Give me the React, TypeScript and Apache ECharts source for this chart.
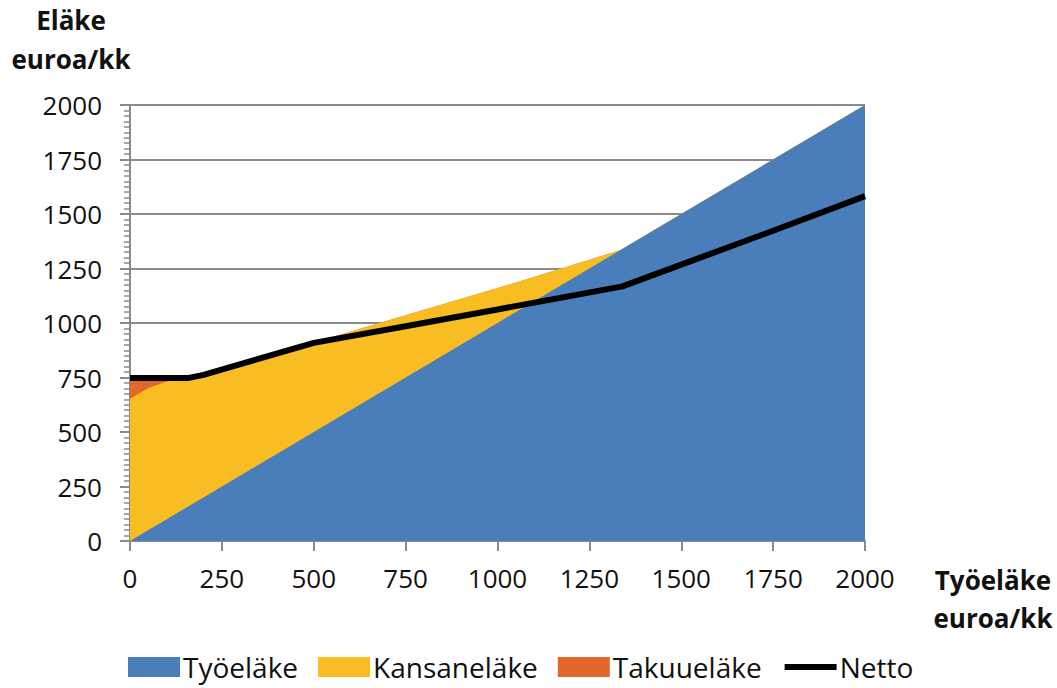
import React, { useEffect, useRef } from "react";
import * as echarts from "echarts";

const xValues = [0, 50, 100, 150, 200, 250, 500, 750, 1000, 1250, 1335, 1500, 1750, 2000];
const tyoelake = [0, 50, 100, 150, 200, 250, 500, 750, 1000, 1250, 1335, 1500, 1750, 2000];
const kansanelake = [652, 652, 632, 595, 560, 535, 410, 285, 160, 40, 0, 0, 0, 0];
const takuuelake = [93, 40, 12, 0, 0, 0, 0, 0, 0, 0, 0, 0, 0, 0];
const nettoX = [0, 160, 200, 500, 750, 1000, 1340, 1500, 1750, 2000];
const nettoY = [748, 748, 762, 909, 985, 1062, 1168, 1268, 1423, 1582];
const seriesNames = ["Työeläke", "Kansaneläke", "Takuueläke", "Netto"];
const colors = ["#4a7ebb", "#f7bd22", "#e2672a", "#000000"];
const yTitle = ["Eläke", "euroa/kk"];
const xTitle = ["Työeläke", "euroa/kk"];

const FONT = "Open Sans";

export default function App() {
  const ref = useRef<HTMLDivElement>(null);
  useEffect(() => {
    document.body.style.margin = "0";
    const chart = echarts.init(ref.current!, null, { renderer: "svg" });
    // stacked tops built from the component arrays
    const layers = [tyoelake, kansanelake, takuuelake];
    const tops = layers.map((_, li) =>
      xValues.map((x, i) => {
        let s = 0;
        for (let k = 0; k <= li; k++) s += layers[k][i];
        return [x, s];
      })
    );
    const areaSeries = (idx: number) => ({
      name: seriesNames[idx],
      type: "line",
      data: tops[idx],
      symbol: "none",
      lineStyle: { width: 0, color: colors[idx] },
      itemStyle: { color: colors[idx] },
      areaStyle: { color: colors[idx], opacity: 1, origin: "start" },
      z: 2,
    });
    const titleText = (text: string, x: number, y: number) => ({
      type: "text",
      x,
      y,
      style: {
        text,
        fontFamily: FONT,
        fontSize: 26,
        fontWeight: "bold",
        fill: "#111",
        align: "center",
        verticalAlign: "middle",
      },
    });
    chart.setOption({
      animation: false,
      textStyle: { fontFamily: FONT },
      grid: { left: 130, right: 192, top: 105, bottom: 147 },
      legend: {
        left: 128,
        top: 653,
        padding: 0,
        itemWidth: 52,
        itemHeight: 20,
        itemGap: 20,
        textStyle: { fontFamily: FONT, fontSize: 28, color: "#111", padding: [0, 0, 0, -2] },
        data: [
          { name: seriesNames[0], icon: "rect" },
          { name: seriesNames[1], icon: "rect" },
          { name: seriesNames[2], icon: "rect" },
          {
            name: seriesNames[3],
            itemStyle: { color: "rgba(0,0,0,0)", borderWidth: 0 },
            lineStyle: { width: 6, color: "#000" },
          },
        ],
      },
      xAxis: {
        type: "value",
        min: 0,
        max: 2000,
        interval: 250,
        axisLine: { show: true, lineStyle: { color: "#8a8a8a", width: 2 } },
        axisTick: { show: true, length: 10, lineStyle: { color: "#8a8a8a", width: 2 } },
        splitLine: { show: false },
        axisLabel: {
          fontFamily: FONT,
          fontSize: 26,
          color: "#111",
          margin: 24,
          formatter: (v: number) => String(v),
        },
      },
      yAxis: {
        type: "value",
        min: 0,
        max: 2000,
        interval: 250,
        axisLine: { show: true, lineStyle: { color: "#8a8a8a", width: 2 } },
        axisTick: { show: true, length: 10, lineStyle: { color: "#8a8a8a", width: 2 } },
        minorTick: { show: true, splitNumber: 10, length: 6, lineStyle: { color: "#8a8a8a", width: 1.5 } },
        splitLine: { show: true, lineStyle: { color: "#8c8c8c", width: 2 } },
        axisLabel: {
          fontFamily: FONT,
          fontSize: 26,
          color: "#111",
          margin: 28,
          formatter: (v: number) => String(v),
        },
      },
      graphic: [
        titleText(yTitle[0], 71, 20),
        titleText(yTitle[1], 71, 59),
        titleText(xTitle[0], 993, 580),
        titleText(xTitle[1], 993, 618),
      ],
      series: [
        areaSeries(2),
        areaSeries(1),
        areaSeries(0),
        {
          name: seriesNames[3],
          type: "line",
          data: nettoX.map((x, i) => [x, nettoY[i]]),
          symbol: "none",
          lineStyle: { color: colors[3], width: 6 },
          itemStyle: { color: "rgba(0,0,0,0)" },
          z: 5,
        },
      ],
    });
    return () => chart.dispose();
  }, []);
  return <div ref={ref} style={{ width: 1057, height: 688 }} />;
}
